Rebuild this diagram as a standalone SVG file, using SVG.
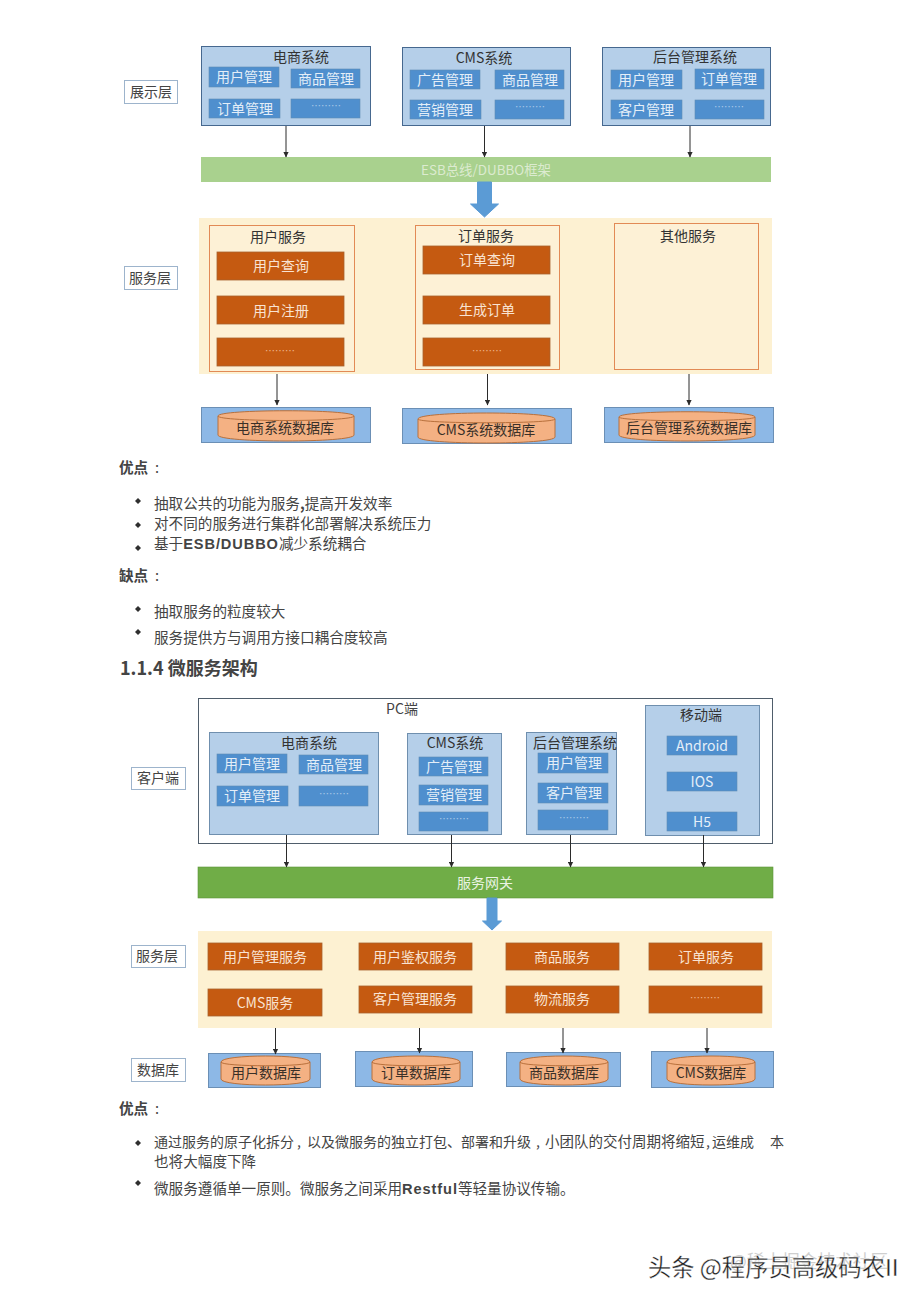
<svg xmlns="http://www.w3.org/2000/svg" width="920" height="1301" viewBox="0 0 920 1301">
<defs>
<marker id="ah" markerWidth="6" markerHeight="6" refX="5" refY="3" orient="auto" markerUnits="userSpaceOnUse"><path d="M0,0.4 L5.5,3 L0,5.6 z" fill="#2b2b2b"/></marker>
</defs>
<style>
text{font-family:"Noto Sans CJK SC","Liberation Sans",sans-serif}
.c{text-anchor:middle}
.lab rect{fill:#fff;stroke:#9db4cc;stroke-width:1}
.lab text{font-size:14px;fill:#444;text-anchor:middle}
.sys{fill:#b5cfe9;stroke:#46688f;stroke-width:1}
.sys2{fill:#b5cfe9;stroke:#6f8fae;stroke-width:1}
.st{font-size:14px;fill:#333;text-anchor:middle}
.sub{fill:#4f8fce;stroke:#5f8db5;stroke-width:.6}
.subt{font-size:14px;fill:#e4eef8;text-anchor:middle}
.dots{font-size:10px;fill:#a9c9e8;text-anchor:middle}
.or{fill:#c55a11;stroke:#a8612e;stroke-width:.8}
.ort{font-size:14px;fill:#f9e3d2;text-anchor:middle}
.svc{fill:#fdf1d6;stroke:#e28a55;stroke-width:1}
.dbbg{fill:#8db8e6;stroke:#6b8fb5;stroke-width:1}
.cyl{fill:#f4b183;stroke:#b8703c;stroke-width:1}
.dbt{font-size:14px;fill:#3a3028;text-anchor:middle}
.band{fill:#fdf1d2}
.conn{stroke:#2b2b2b;stroke-width:1;fill:none;marker-end:url(#ah)}
.block{fill:#5b9bd5;stroke:#5b9bd5}
.body{font-size:14.6px;fill:#444}
.line14{font-size:14px;fill:#444}
.b{font-weight:700}
.lat{font-family:"Liberation Sans",sans-serif;font-weight:700;letter-spacing:.9px}
.head{font-size:14.6px;fill:#444}
.bul{fill:#2f2f2f}
</style>

<rect width="920" height="1301" fill="#fff"/>

<g id="bands">
<rect class="band" x="199" y="218" width="573" height="156"/>
<rect class="band" x="198" y="931" width="574" height="97"/>
</g>

<g id="label-display" class="lab"><rect x="124.500" y="80.500" width="53" height="23"/><text x="151" y="97">展示层</text></g>

<g id="sys-ecom">
<rect class="sys" x="201.500" y="46.500" width="169" height="79"/>
<text class="st" x="301" y="62">电商系统</text>
<rect class="sub" x="209" y="67" width="70" height="20"/><text class="subt" x="244" y="82">用户管理</text>
<rect class="sub" x="291" y="69" width="69" height="19"/><text class="subt" x="326" y="84">商品管理</text>
<rect class="sub" x="209" y="99" width="71" height="19"/><text class="subt" x="245" y="114">订单管理</text>
<rect class="sub" x="291" y="99" width="69" height="19"/><text class="dots" x="326" y="110">………</text>
</g>
<g id="sys-cms">
<rect class="sys" x="402.500" y="47.500" width="168" height="78"/>
<text class="st" x="484" y="63">CMS系统</text>
<rect class="sub" x="410" y="70" width="70" height="19"/><text class="subt" x="445" y="85">广告管理</text>
<rect class="sub" x="495" y="70" width="69" height="19"/><text class="subt" x="530" y="85">商品管理</text>
<rect class="sub" x="410" y="100" width="71" height="19"/><text class="subt" x="445" y="115">营销管理</text>
<rect class="sub" x="495" y="100" width="69" height="19"/><text class="dots" x="530" y="111">………</text>
</g>
<g id="sys-admin">
<rect class="sys" x="602.500" y="47.500" width="168" height="78"/>
<text class="st" x="695" y="62">后台管理系统</text>
<rect class="sub" x="611" y="70" width="71" height="19"/><text class="subt" x="646" y="85">用户管理</text>
<rect class="sub" x="695" y="69" width="69" height="20"/><text class="subt" x="729" y="84">订单管理</text>
<rect class="sub" x="611" y="100" width="71" height="19"/><text class="subt" x="646" y="115">客户管理</text>
<rect class="sub" x="695" y="100" width="69" height="19"/><text class="dots" x="729" y="111">………</text>
</g>

<g id="esb">
<rect x="201" y="157" width="570" height="25" fill="#a9d18e"/>
<text class="c" x="486" y="175" font-size="13.4" fill="#dcebd0">ESB总线/DUBBO框架</text>
</g>

<g id="label-service" class="lab"><rect x="124.500" y="266.500" width="53" height="23"/><text x="150" y="283">服务层</text></g>

<g id="svc-user">
<rect class="svc" x="209.500" y="225.500" width="145" height="146"/>
<text class="st" x="278" y="242">用户服务</text>
<rect class="or" x="217" y="252" width="127" height="28"/><text class="ort" x="281" y="271">用户查询</text>
<rect class="or" x="217" y="296" width="127" height="28"/><text class="ort" x="281" y="316">用户注册</text>
<rect class="or" x="217" y="338" width="127" height="28"/><text class="dots" x="280" y="355" style="fill:#eeb58c">………</text>
</g>
<g id="svc-order">
<rect class="svc" x="415.500" y="225.500" width="144" height="144"/>
<text class="st" x="486" y="241">订单服务</text>
<rect class="or" x="423" y="246" width="127" height="28"/><text class="ort" x="487" y="265">订单查询</text>
<rect class="or" x="423" y="296" width="127" height="28"/><text class="ort" x="487" y="315">生成订单</text>
<rect class="or" x="423" y="338" width="127" height="28"/><text class="dots" x="487" y="355" style="fill:#eeb58c">………</text>
</g>
<g id="svc-other">
<rect class="svc" x="614.500" y="223.500" width="144" height="146"/>
<text class="st" x="688" y="241">其他服务</text>
</g>

<g id="db-ecom">
<rect class="dbbg" x="201.500" y="407.500" width="169" height="35"/>
<path class="cyl" d="M218,416 C218,409 354,409 354,416 V435 C354,443 218,443 218,435 Z"/>
<path d="M218,416 C218,422 354,422 354,416" fill="none" stroke="#b8703c"/>
<text class="dbt" x="285" y="433" font-size="13">电商系统数据库</text>
</g>
<g id="db-cms">
<rect class="dbbg" x="402.500" y="408.500" width="169" height="35"/>
<path class="cyl" d="M418,419 C418,411 555,411 555,419 V437 C555,445 418,445 418,437 Z"/>
<path d="M418,419 C418,424 555,424 555,419" fill="none" stroke="#b8703c"/>
<text class="dbt" x="486" y="435">CMS系统数据库</text>
</g>
<g id="db-admin">
<rect class="dbbg" x="604.500" y="407.500" width="169" height="35"/>
<path class="cyl" d="M619,417 C619,410 755,410 755,417 V435 C755,443 619,443 619,435 Z"/>
<path d="M619,417 C619,422 755,422 755,417" fill="none" stroke="#b8703c"/>
<text class="dbt" x="689" y="433">后台管理系统数据库</text>
</g>

<g id="pc-frame">
<rect x="198.500" y="698.500" width="574" height="145" fill="#fff" stroke="#4f5d6b" stroke-width="1"/>
<text class="st" x="402" y="714" style="fill:#444">PC端</text>
</g>
<g id="label-client" class="lab"><rect x="131.500" y="767.500" width="54" height="22"/><text x="158" y="783">客户端</text></g>

<g id="m-ecom">
<rect class="sys2" x="209.500" y="732.500" width="169" height="102"/>
<text class="st" x="309" y="748">电商系统</text>
<rect class="sub" x="217" y="754" width="70" height="19"/><text class="subt" x="252" y="769">用户管理</text>
<rect class="sub" x="299" y="755" width="69" height="19"/><text class="subt" x="334" y="770">商品管理</text>
<rect class="sub" x="217" y="786" width="71" height="20"/><text class="subt" x="252" y="801">订单管理</text>
<rect class="sub" x="299" y="786" width="69" height="20"/><text class="dots" x="334" y="798">………</text>
</g>
<g id="m-cms">
<rect class="sys2" x="407.500" y="733.500" width="94" height="101"/>
<text class="st" x="455" y="748">CMS系统</text>
<rect class="sub" x="419" y="757" width="69" height="19"/><text class="subt" x="454" y="772">广告管理</text>
<rect class="sub" x="419" y="785" width="69" height="20"/><text class="subt" x="454" y="800">营销管理</text>
<rect class="sub" x="419" y="812" width="69" height="19"/><text class="dots" x="454" y="823">………</text>
</g>
<g id="m-admin">
<rect class="sys2" x="526.500" y="732.500" width="90" height="102"/>
<text class="st" x="575" y="748">后台管理系统</text>
<rect class="sub" x="538" y="753" width="70" height="20"/><text class="subt" x="574" y="768">用户管理</text>
<rect class="sub" x="538" y="783" width="70" height="20"/><text class="subt" x="574" y="798">客户管理</text>
<rect class="sub" x="538" y="810" width="70" height="20"/><text class="dots" x="574" y="822">………</text>
</g>
<g id="m-mobile">
<rect class="sys2" x="645.500" y="705.500" width="114" height="130"/>
<text class="st" x="701" y="720">移动端</text>
<rect class="sub" x="667" y="736" width="70" height="19"/><text class="subt" x="702" y="751">Android</text>
<rect class="sub" x="667" y="772" width="70" height="19"/><text class="subt" x="702" y="787">IOS</text>
<rect class="sub" x="667" y="812" width="70" height="19"/><text class="subt" x="702" y="827">H5</text>
</g>

<g id="gateway">
<rect x="198" y="867" width="575" height="31" fill="#70ad47" stroke="#5d9439" stroke-width=".6"/>
<text class="c" x="485" y="888" font-size="14" fill="#eaf3e2">服务网关</text>
</g>

<g id="label-service2" class="lab"><rect x="131.500" y="945.500" width="54" height="22"/><text x="157" y="961">服务层</text></g>
<g id="label-db" class="lab"><rect x="131.500" y="1058.500" width="54" height="23"/><text x="158" y="1075">数据库</text></g>

<g id="s-user"><rect class="or" x="208" y="943" width="114" height="27"/><text class="ort" x="265" y="962">用户管理服务</text></g>
<g id="s-auth"><rect class="or" x="359" y="943" width="113" height="27"/><text class="ort" x="415" y="962">用户鉴权服务</text></g>
<g id="s-goods"><rect class="or" x="506" y="943" width="113" height="27"/><text class="ort" x="562" y="962">商品服务</text></g>
<g id="s-order"><rect class="or" x="649" y="943" width="113" height="27"/><text class="ort" x="706" y="962">订单服务</text></g>
<g id="s-cms"><rect class="or" x="208" y="989" width="114" height="27"/><text class="ort" x="265" y="1008">CMS服务</text></g>
<g id="s-cust"><rect class="or" x="359" y="986" width="113" height="27"/><text class="ort" x="415" y="1004">客户管理服务</text></g>
<g id="s-log"><rect class="or" x="506" y="986" width="113" height="27"/><text class="ort" x="562" y="1004">物流服务</text></g>
<g id="s-more"><rect class="or" x="649" y="986" width="113" height="27"/><text class="dots" x="705" y="1002" style="fill:#eeb58c">………</text></g>

<g id="d-user">
<rect class="dbbg" x="208.500" y="1053.500" width="112" height="34"/>
<path class="cyl" d="M221,1062 C221,1054 310,1054 310,1062 V1079 C310,1087 221,1087 221,1079 Z"/>
<path d="M221,1062 C221,1067 310,1067 310,1062" fill="none" stroke="#b8703c"/>
<text class="dbt" x="266" y="1078">用户数据库</text>
</g>
<g id="d-order">
<rect class="dbbg" x="355.500" y="1051.500" width="117" height="35"/>
<path class="cyl" d="M372,1062 C372,1054 460,1054 460,1062 V1079 C460,1087 372,1087 372,1079 Z"/>
<path d="M372,1062 C372,1067 460,1067 460,1062" fill="none" stroke="#b8703c"/>
<text class="dbt" x="416" y="1078">订单数据库</text>
</g>
<g id="d-goods">
<rect class="dbbg" x="506.500" y="1052.500" width="114" height="34"/>
<path class="cyl" d="M520,1062 C520,1054 608,1054 608,1062 V1079 C608,1087 520,1087 520,1079 Z"/>
<path d="M520,1062 C520,1067 608,1067 608,1062" fill="none" stroke="#b8703c"/>
<text class="dbt" x="564" y="1078">商品数据库</text>
</g>
<g id="d-cms">
<rect class="dbbg" x="651.500" y="1051.500" width="122" height="36"/>
<path class="cyl" d="M667,1062 C667,1054 755,1054 755,1062 V1079 C755,1087 667,1087 667,1079 Z"/>
<path d="M667,1062 C667,1067 755,1067 755,1062" fill="none" stroke="#b8703c"/>
<text class="dbt" x="711" y="1078">CMS数据库</text>
</g>

<g id="connectors">
<path class="conn" d="M286,126 V157"/>
<path class="conn" d="M484.500,126 V157"/>
<path class="conn" d="M690,126 V157"/>
<path class="block" d="M477.500,182 H491.500 V204 H498.500 L484.500,217 L470.500,204 H477.500 Z"/>
<path class="conn" d="M277,374 V405"/>
<path class="conn" d="M487.500,374 V405"/>
<path class="conn" d="M689,374 V405"/>
<path class="conn" d="M286.500,835 V867"/>
<path class="conn" d="M451.500,835 V867"/>
<path class="conn" d="M570.500,835 V867"/>
<path class="conn" d="M703.500,835 V867"/>
<path class="block" d="M487,898 H497 V921 H501.500 L492,930 L482.500,921 H487 Z"/>
<path class="conn" d="M275.500,1028 V1054"/>
<path class="conn" d="M419.500,1028 V1053"/>
<path class="conn" d="M563,1028 V1053"/>
<path class="conn" d="M707,1028 V1053"/>
</g>

<g id="text1">
<text class="head" x="119" y="473"><tspan class="b">优点</tspan><tspan x="155">:</tspan></text>
<path class="bul" d="M138,498 l3,3 l-3,3 l-3,-3 z"/>
<text class="body" x="154" y="509">抽取公共的功能为服务<tspan class="b">,</tspan>提高开发效率</text>
<path class="bul" d="M138,522 l3,3 l-3,3 l-3,-3 z"/>
<text class="body" x="154" y="529">对不同的服务进行集群化部署解决系统压力</text>
<path class="bul" d="M138,545 l3,3 l-3,3 l-3,-3 z"/>
<text class="body" x="154" y="549">基于<tspan class="lat">ESB/DUBBO</tspan>减少系统耦合</text>
<text class="head" x="119" y="581"><tspan class="b">缺点</tspan><tspan x="155">:</tspan></text>
<path class="bul" d="M138,606 l3,3 l-3,3 l-3,-3 z"/>
<text class="body" x="154" y="617">抽取服务的粒度较大</text>
<path class="bul" d="M138,629 l3,3 l-3,3 l-3,-3 z"/>
<text class="body" x="154" y="643">服务提供方与调用方接口耦合度较高</text>
<text x="120" y="675" font-size="18" font-weight="700" fill="#444">1.1.4 微服务架构</text>
</g>

<g id="text2">
<text class="head" x="119" y="1114"><tspan class="b">优点</tspan><tspan x="155">:</tspan></text>
<path class="bul" d="M138,1140 l3,3 l-3,3 l-3,-3 z"/>
<text class="line14" x="154" y="1147">通过服务的原子化拆分<tspan x="297">,</tspan><tspan x="307">以及微服务的独立打包</tspan><tspan x="447">、</tspan><tspan x="461">部署和升级</tspan><tspan x="536">,</tspan><tspan x="545" style="font-size:14.5px">小团队的交付周期将缩短</tspan><tspan x="706">,</tspan><tspan x="712">运维成</tspan><tspan x="770">本</tspan></text>
<text class="body" x="154" y="1167">也将大幅度下降</text>
<path class="bul" d="M138,1180 l3,3 l-3,3 l-3,-3 z"/>
<text class="body" x="154" y="1194">微服务遵循单一原则。微服务之间采用<tspan class="lat">Restful</tspan>等轻量协议传输。</text>
</g>

<g id="watermark">
<text x="730" y="1268" font-size="17.7" fill="#cfcfcf">@稀土掘金技术社区</text>
<text x="648" y="1276" font-size="23.3" fill="#222" stroke="#fff" stroke-width=".3">头条 @程序员高级码农II</text>
</g>
</svg>
